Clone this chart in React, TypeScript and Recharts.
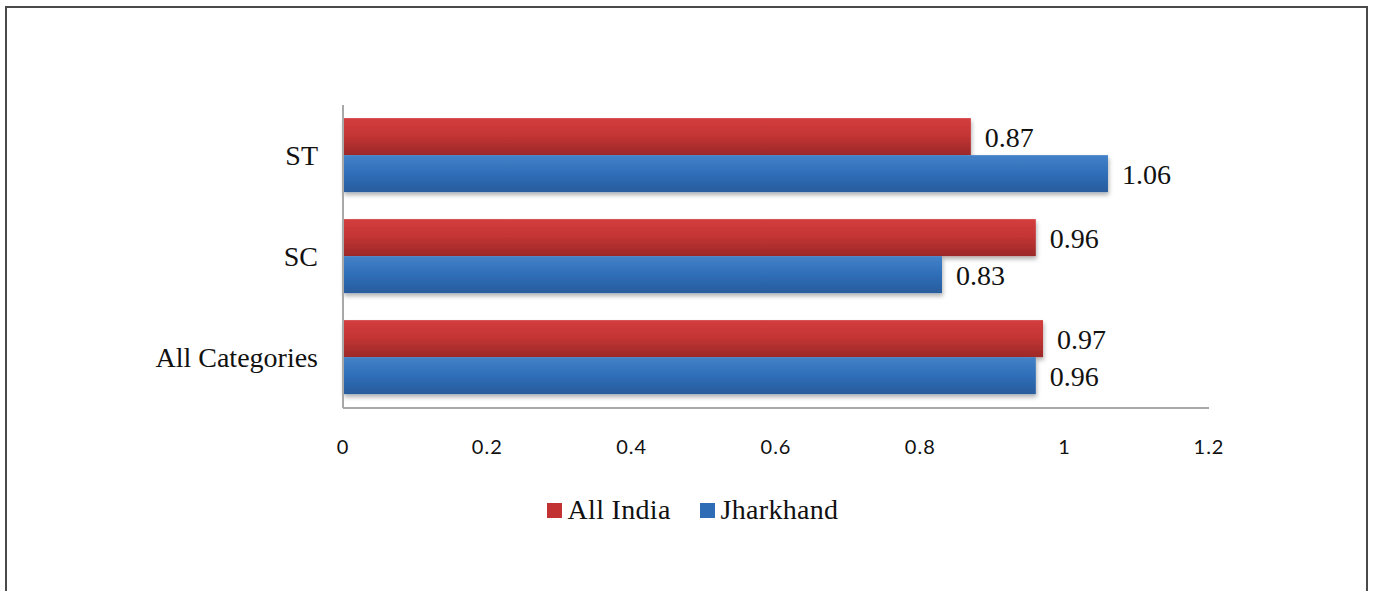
import React from "react";
import { BarChart, Bar, XAxis, YAxis, Legend, LabelList } from "recharts";

const categories = ["ST", "SC", "All Categories"];
const allIndia = [0.87, 0.96, 0.97];
const jharkhand = [1.06, 0.83, 0.96];
const xTicks = [0, 0.2, 0.4, 0.6, 0.8, 1, 1.2];

const data = categories.map((c, i) => ({
    name: c,
    allIndia: allIndia[i],
    jharkhand: jharkhand[i],
}));

const serif = "'Liberation Serif', 'DejaVu Serif', serif";

const ShadowBar = (props: any) => {
    const { x, y, width, height, fill } = props;
    if (!width || width <= 0) return null;
    return <rect x={x} y={y} width={width} height={height} fill={fill} filter="url(#barShadow)" />;
};

const LegendBox = () => (
    <div style={{ display: "flex", justifyContent: "center", alignItems: "center", paddingLeft: 12, fontFamily: serif, fontSize: 28, lineHeight: "36px", color: "#111", letterSpacing: 0.3 }}>
        <span style={{ width: 15, height: 15, background: "#c23232", display: "inline-block", marginRight: 6 }} />
        <span style={{ marginRight: 29 }}>All India</span>
        <span style={{ width: 15, height: 15, background: "#2e6db5", display: "inline-block", marginRight: 6 }} />
        <span>Jharkhand</span>
    </div>
);

export default function App() {
    return (
        <div style={{ position: "absolute", left: 0, top: 0, width: 1373, height: 591, background: "#fff", overflow: "hidden" }}>
            <div style={{ position: "absolute", left: 5, top: 6, width: 1359, height: 620, border: "2px solid #4a4a4a" }} />
            <BarChart
                width={1373}
                height={591}
                data={data}
                layout="vertical"
                margin={{ top: 105, right: 164, bottom: 107, left: 0 }}
                barCategoryGap="13%"
                barGap={0}
                style={{ position: "absolute", left: 0, top: 0 }}
            >
                <defs>
                    <linearGradient id="redGrad" x1="0" y1="0" x2="0" y2="1">
                        <stop offset="0%" stopColor="#d33d3d" />
                        <stop offset="45%" stopColor="#c53535" />
                        <stop offset="100%" stopColor="#9c2828" />
                    </linearGradient>
                    <linearGradient id="blueGrad" x1="0" y1="0" x2="0" y2="1">
                        <stop offset="0%" stopColor="#4482c8" />
                        <stop offset="50%" stopColor="#2e6eb8" />
                        <stop offset="100%" stopColor="#2a5c9c" />
                    </linearGradient>
                    <filter id="barShadow" x="-5%" y="-20%" width="110%" height="160%">
                        <feDropShadow dx="1" dy="3" stdDeviation="2" floodColor="#000" floodOpacity="0.3" />
                    </filter>
                </defs>
                <XAxis
                    type="number"
                    domain={[0, 1.2]}
                    ticks={xTicks}
                    height={40}
                    tickSize={0}
                    tickMargin={32}
                    axisLine={{ stroke: "#a8a8a8", strokeWidth: 2 }}
                    tick={{ fontFamily: "Lato, 'Open Sans', sans-serif", fontSize: 20, letterSpacing: 1, fill: "#111" }}
                />
                <YAxis
                    type="category"
                    dataKey="name"
                    width={343}
                    tickSize={0}
                    tickMargin={25}
                    axisLine={{ stroke: "#a8a8a8", strokeWidth: 2 }}
                    tick={{ fontFamily: serif, fontSize: 28, fill: "#111" }}
                />
                <Legend
                    verticalAlign="bottom"
                    content={<LegendBox />}
                    wrapperStyle={{ top: 492, left: 0, width: 1373, height: 36 }}
                />
                <Bar dataKey="allIndia" name="All India" fill="url(#redGrad)" shape={<ShadowBar />} isAnimationActive={false}>
                    <LabelList dataKey="allIndia" position="right" offset={14} style={{ fontFamily: serif, fontSize: 28, fill: "#111" }} />
                </Bar>
                <Bar dataKey="jharkhand" name="Jharkhand" fill="url(#blueGrad)" shape={<ShadowBar />} isAnimationActive={false}>
                    <LabelList dataKey="jharkhand" position="right" offset={14} style={{ fontFamily: serif, fontSize: 28, fill: "#111" }} />
                </Bar>
            </BarChart>
        </div>
    );
}
